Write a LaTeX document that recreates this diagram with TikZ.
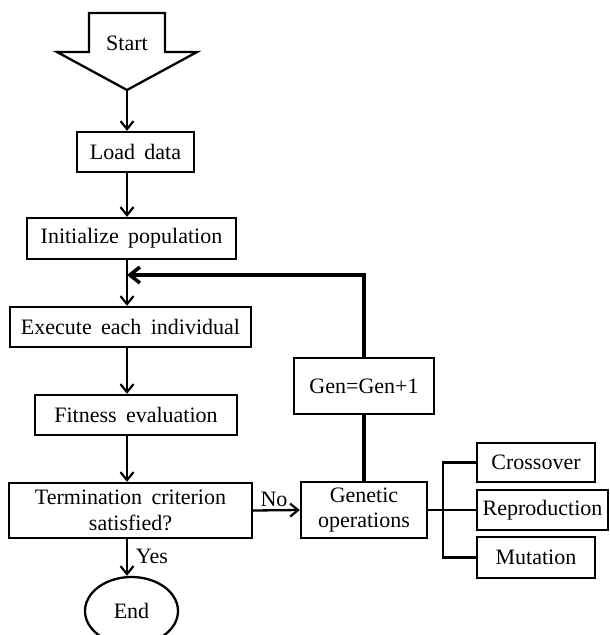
\documentclass[tikz,border=0pt]{standalone}
\usepackage{fontspec}
\setmainfont{Liberation Serif}[WordSpace=1.7]
\usetikzlibrary{arrows.meta,shapes.geometric}
\begin{document}
\begin{tikzpicture}[x=0.5pt,y=-0.5pt,
  every node/.style={font=\fontsize{11}{12.8}\selectfont},
  box/.style={draw, line width=1.15pt, inner sep=0pt, align=center},
  conn/.style={line width=1.15pt},
  arr/.style={conn, -{Straight Barb[length=4pt,width=6.5pt,line width=1.1pt]}},
  thickline/.style={line width=2pt},
  lbl/.style={inner sep=0pt}]
\useasboundingbox (0,0) rectangle (609,635);
% start arrow shape
\draw[line width=1.15pt] (89,13) -- (165,13) -- (165,52) -- (197,52) -- (127,90) -- (57,52) -- (89,52) -- cycle;
\node[lbl] (start) at (127,43) {Start};
\coordinate (tip) at (127,90);
% boxes
\node[box, minimum width=58.5pt, minimum height=20pt] (load) at (135.5,152) {Load data};
\node[box, minimum width=104.5pt, minimum height=20.5pt] (init) at (131.5,238.5) {Initialize population};
\node[box, minimum width=120.5pt, minimum height=20pt] (exec) at (130.5,327) {Execute each individual};
\node[box, minimum width=101pt, minimum height=20pt] (fit) at (136,415) {Fitness evaluation};
\node[box, minimum width=121.5pt, minimum height=27.5pt] (term) at (130.5,510.5) {Termination criterion\\satisfied?};
\node[box, ellipse, minimum width=46.5pt, minimum height=34pt] (end) at (131.5,611) {End};
\node[box, minimum width=70pt, minimum height=28pt] (gen) at (364,386) {Gen=Gen+1};
\node[box, minimum width=63pt, minimum height=28pt] (go) at (364,510) {Genetic\\operations};
\node[box, minimum width=59pt, minimum height=19.5pt] (cross) at (536,462.5) {Crossover};
\node[box, minimum width=65.5pt, minimum height=20pt] (repro) at (542.5,510) {Reproduction};
\node[box, minimum width=59pt, minimum height=20.5pt] (mut) at (536,557.5) {Mutation};
\node[lbl] (yes) at (152,556) {Yes};
\node[lbl] (no) at (274,499) {No};
% connectors
\coordinate (j) at (127,275);
\coordinate (b) at (443,510);
\draw[arr] (tip) -- (load.north -| tip);
\draw[arr] (load.south -| tip) -- (init.north -| tip);
\draw[arr] (init.south -| tip) -- (exec.north -| tip);
\draw[arr] (exec.south -| tip) -- (fit.north -| tip);
\draw[arr] (fit.south -| tip) -- (term.north -| tip);
\draw[arr] (term.south -| tip) -- (end.north -| tip);
\draw[arr] (term.east) -- (go.west);
\draw[thickline, -{Straight Barb[length=5pt,width=8pt,line width=1.8pt]}] (gen.north) |- (j);
\draw[thickline] (gen.south) -- (go.north);
\draw[conn] (go.east) -- (b);
\draw[conn] (cross.west) -| (b) |- (mut.west);
\draw[conn] (b) -- (repro.west);
\end{tikzpicture}
\end{document}
